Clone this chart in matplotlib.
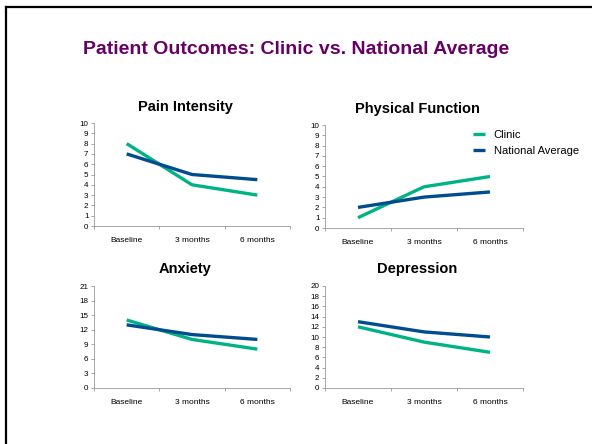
import matplotlib.pyplot as plt
from matplotlib.lines import Line2D

# data
periods = ['Baseline', '3 months', '6 months']

pain_clinic = [8, 4, 3]
pain_national = [7, 5, 4.5]
phys_clinic = [1, 4, 5]
phys_national = [2, 3, 3.5]
anx_clinic = [14, 10, 8]
anx_national = [13, 11, 10]
dep_clinic = [12, 9, 7]
dep_national = [13, 11, 10]

CLINIC = '#00B386'
NATIONAL = '#004C8F'

W, H = 592, 444
fig = plt.figure(figsize=(W / 100, H / 100), dpi=100)
plt.rcParams['font.family'] = ['Liberation Sans', 'DejaVu Sans']


def px_axes(x0, y_top, x1, y_bot):
    return fig.add_axes([x0 / W, 1 - y_bot / H, (x1 - x0) / W, (y_bot - y_top) / H])


def draw_panel(ax, title, clinic, national, ymax, step):
    x = range(len(periods))
    ax.plot(x, clinic, color=CLINIC, lw=2.4, label='Clinic', solid_capstyle='butt')
    ax.plot(x, national, color=NATIONAL, lw=2.4, label='National Average',
            solid_capstyle='butt')
    ax.set_xlim(-0.5, len(periods) - 0.5)
    ax.set_ylim(0, ymax)
    ax.set_yticks(range(0, ymax + 1, step))
    ax.set_xticks([i - 0.5 for i in range(len(periods) + 1)])
    ax.set_xticklabels([])
    ax.set_xticks(list(x), minor=True)
    ax.set_xticklabels(periods, minor=True)
    ax.tick_params(axis='x', which='major', length=2.5, width=0.6, color='#999999')
    ax.tick_params(axis='x', which='minor', length=0, pad=8, labelsize=6)
    ax.tick_params(axis='y', length=2, width=0.6, color='#999999', labelsize=5.8, pad=2)
    for s in ['top', 'right']:
        ax.spines[s].set_visible(False)
    for s in ['left', 'bottom']:
        ax.spines[s].set_color('#999999')
        ax.spines[s].set_linewidth(0.6)
    # title sits a bit left of the plot centre (centred over plot + tick labels)
    ax.set_title(title, fontsize=10.5, fontweight='bold', pad=9, x=0.465)


ax1 = px_axes(94, 123, 290, 226)
draw_panel(ax1, 'Pain Intensity', pain_clinic, pain_national, 10, 1)

ax2 = px_axes(325, 125, 523, 228)
draw_panel(ax2, 'Physical Function', phys_clinic, phys_national, 10, 1)
ax2.legend(loc='upper left', bbox_to_anchor=(0.745, 0.95), frameon=False,
           fontsize=8, handlelength=1.1, handletextpad=0.8, labelspacing=0.55,
           borderaxespad=0, borderpad=0)

ax3 = px_axes(94, 286, 290, 388)
draw_panel(ax3, 'Anxiety', anx_clinic, anx_national, 21, 3)

ax4 = px_axes(325, 286, 523, 388)
draw_panel(ax4, 'Depression', dep_clinic, dep_national, 20, 2)

fig.text(0.5, 1 - 49 / H, 'Patient Outcomes: Clinic vs. National Average',
         ha='center', va='center', fontsize=14, fontweight='bold', color='#660066')

# slide-style frame along top and left edges
fig.add_artist(Line2D([5.5 / W, 5.5 / W], [0, 1 - 7 / H], color='black', lw=1.6,
                      transform=fig.transFigure))
fig.add_artist(Line2D([5.5 / W, 1], [1 - 7 / H, 1 - 7 / H], color='black', lw=1.6,
                      transform=fig.transFigure))

fig.savefig('out.png', dpi=100)
